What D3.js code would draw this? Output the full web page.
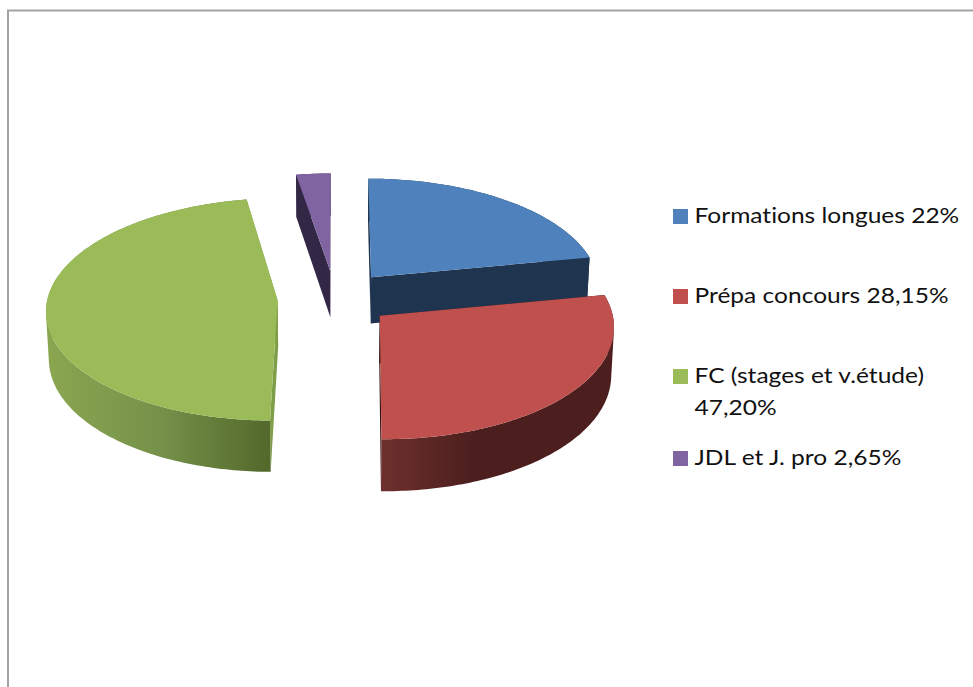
<!DOCTYPE html>
<html>
<head>
<meta charset="utf-8">
<script src="https://d3js.org/d3.v7.min.js"></script>
<style>
body { margin: 0; background: #fff; }
svg { display: block; }
.legend text { font-family: Lato, sans-serif; font-size: 21.5px; fill: #111; letter-spacing: 0.01px; }
</style>
</head>
<body>
<svg></svg>
<script>
var width = 973;
var height = 687;

//chart data
var categories = ["Formations longues", "Prépa concours", "FC (stages et v.étude)", "JDL et J. pro"];
var shares = [22, 28.15, 47.2, 2.65];
var legendLines = [["Formations longues 22%"], ["Prépa concours 28,15%"], ["FC (stages et v.étude)", "47,20%"], ["JDL et J. pro 2,65%"]];

//colours of the top face and of the cut faces
var topColors = ["#4f81bd", "#c0504d", "#9bbb59", "#8064a2"];
var wallColors = ["#1f354f", "#2f1110", "#7f9e48", "#322744"];
var rimStops = [
    [["0%", "#1f354f"], ["100%", "#1f354f"]],
    [["0%", "#6e302d"], ["40%", "#4c1f1e"], ["100%", "#4c1f1e"]],
    [["0%", "#8aa650"], ["50%", "#76924a"], ["100%", "#53682b"]],
    [["0%", "#322744"], ["100%", "#322744"]]
];

//pie geometry
var cx = 335, cy = 298;
var radiusX = 230, radiusY = 110;
var perspective = 0.083;
var explode = 0.25;
var depth = 47;
var bottomShrink = 0.99;

var svg = d3.select("svg").attr("width", width).attr("height", height);

//page frame
svg.append("path")
    .attr("d", "M8," + height + "V10.5H" + width)
    .attr("fill", "none")
    .attr("stroke", "#a3a3a3")
    .attr("stroke-width", 2);

var pie = d3.pie().sort(null).value(d => d).startAngle(0).endAngle(2 * Math.PI);
var slices = pie(shares);

//world coords of the pie plane -> screen, bottom=true gives the lower face
function project(wx, wy, bottom) {
    var k = 1 / (1 + perspective * wy);
    var x = wx * k * radiusX;
    var y = -wy * k * radiusY;
    if (bottom) {
        return [cx + x * bottomShrink, cy + y + depth * k];
    }
    return [cx + x, cy + y];
}

var line = d3.line();

function apex(s) {
    var mid = (s.startAngle + s.endAngle) / 2;
    return [explode * Math.sin(mid), explode * Math.cos(mid)];
}

function rim(s, bottom) {
    var o = apex(s);
    var n = Math.ceil((s.endAngle - s.startAngle) * 60);
    return d3.range(n + 1).map(i => {
        var a = s.startAngle + (s.endAngle - s.startAngle) * i / n;
        return project(o[0] + Math.sin(a), o[1] + Math.cos(a), bottom);
    });
}

function centre(s, bottom) {
    var o = apex(s);
    return project(o[0], o[1], bottom);
}

//gradients for the outer rim of each slice
var defs = svg.append("defs");
slices.forEach((s, i) => {
    var xs = rim(s, false).map(p => p[0]);
    var grad = defs.append("linearGradient")
        .attr("id", "rim" + i)
        .attr("gradientUnits", "userSpaceOnUse")
        .attr("x1", i == 1 ? centre(s, false)[0] : d3.min(xs))
        .attr("x2", i == 2 ? centre(s, false)[0] - 7 : d3.max(xs))
        .attr("y1", 0)
        .attr("y2", 0);
    rimStops[i].forEach(st => {
        grad.append("stop").attr("offset", st[0]).attr("stop-color", st[1]);
    });
});

//back slices first
var order = [3, 0, 2, 1];
order.forEach(i => {
    var s = slices[i];
    var g = svg.append("g");
    var top = rim(s, false);
    var low = rim(s, true);
    var c = centre(s, false);
    var cb = centre(s, true);
    //the two cut faces
    g.append("path")
        .attr("d", line([c, top[0], low[0], cb]) + "Z")
        .attr("fill", wallColors[i]);
    g.append("path")
        .attr("d", line([c, top[top.length - 1], low[low.length - 1], cb]) + "Z")
        .attr("fill", wallColors[i]);
    //outer rim, one quad per step, all wound the same way or the silhouette cancels out
    var quads = d3.range(top.length - 1).map(k => {
        var q = [top[k], top[k + 1], low[k + 1], low[k]];
        if (d3.polygonArea(q) < 0) q.reverse();
        return line(q) + "Z";
    });
    g.append("path")
        .attr("d", quads.join(""))
        .attr("fill", "url(#rim" + i + ")");
    //top face
    g.append("path")
        .attr("d", line([c].concat(top)) + "Z")
        .attr("fill", topColors[i]);
});

//legend
var legendTops = [209, 289, 369, 451];
var legend = svg.append("g").attr("class", "legend");
categories.forEach((name, i) => {
    legend.append("rect")
        .attr("x", 673)
        .attr("y", legendTops[i])
        .attr("width", 15)
        .attr("height", 15)
        .attr("fill", topColors[i]);
    legendLines[i].forEach((txt, j) => {
        //the original text is stretched sideways
        legend.append("text")
            .attr("transform", "translate(694.5," + (legendTops[i] + 14 + j * 32) + ") scale(1.14,1)")
            .text(txt);
    });
});
</script>
</body>
</html>
